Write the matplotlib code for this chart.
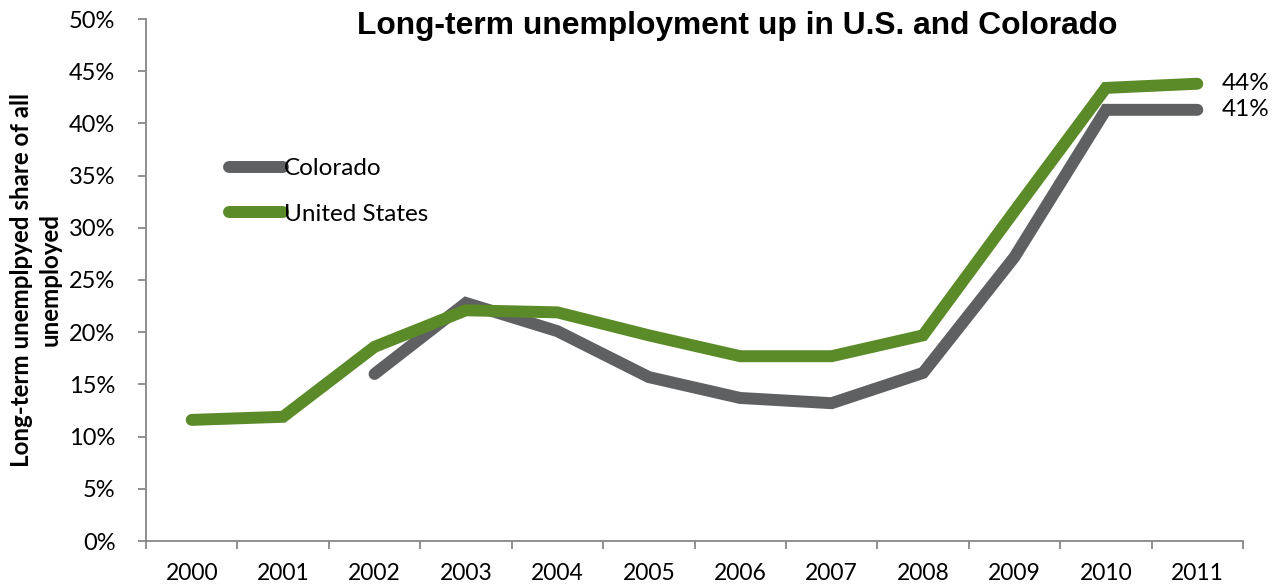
import matplotlib.pyplot as plt
from matplotlib.lines import Line2D
import matplotlib.ticker as ticker

# Share of unemployed out of work 27+ weeks (%)
years = ["2000", "2001", "2002", "2003", "2004", "2005", "2006",
         "2007", "2008", "2009", "2010", "2011"]
us_share = [11.6, 11.9, 18.6, 22.1, 21.9, 19.7, 17.7, 17.7, 19.7, 31.6, 43.4, 43.8]
co_years = ["2002", "2003", "2004", "2005", "2006", "2007", "2008", "2009", "2010", "2011"]
co_share = [16.0, 22.8, 20.1, 15.7, 13.7, 13.2, 16.1, 27.2, 41.3, 41.3]

GRAY = "#5f6062"
GREEN = "#5b8a28"
AXIS = "#878787"
BODY_FONT = ["Lato", "DejaVu Sans"]

fig = plt.figure(figsize=(12.78, 5.86), dpi=100)
ax = fig.add_axes([146 / 1278, 1 - 541 / 586, (1243 - 146) / 1278, (541 - 19) / 586])

x_all = list(range(len(years)))
x_co = [years.index(y) for y in co_years]

ax.plot(x_co, co_share, color=GRAY, lw=8.6, solid_capstyle="round",
        solid_joinstyle="miter", zorder=2)
ax.plot(x_all, us_share, color=GREEN, lw=8.6, solid_capstyle="round",
        solid_joinstyle="miter", zorder=3)

# end-of-line value labels
ax.text(x_all[-1] + 0.27, us_share[-1], f"{round(us_share[-1])}%", va="center",
        ha="left", fontsize=17.5, family=BODY_FONT, clip_on=False)
ax.text(x_all[-1] + 0.27, co_share[-1], f"{round(co_share[-1])}%", va="center",
        ha="left", fontsize=17.5, family=BODY_FONT, clip_on=False)

ax.set_xlim(-0.5, len(years) - 0.5)
ax.set_ylim(0, 50)

# category boundaries get tick marks, labels sit at the centres
ax.xaxis.set_major_locator(ticker.FixedLocator([i - 0.5 for i in range(len(years) + 1)]))
ax.xaxis.set_major_formatter(ticker.NullFormatter())
ax.xaxis.set_minor_locator(ticker.FixedLocator(x_all))
ax.xaxis.set_minor_formatter(ticker.FixedFormatter(years))
ax.tick_params(axis="x", which="major", length=6, width=1.3, color=AXIS, direction="out")
ax.tick_params(axis="x", which="minor", length=0, pad=16, labelsize=16.5)

ax.yaxis.set_major_locator(ticker.MultipleLocator(5))
ax.yaxis.set_major_formatter(ticker.FuncFormatter(lambda v, p: f"{int(v)}%"))
ax.tick_params(axis="y", length=6, width=1.3, color=AXIS, pad=16, labelsize=17)

for lab in ax.get_xticklabels(minor=True) + ax.get_yticklabels():
    lab.set_family(BODY_FONT)

for side in ["top", "right"]:
    ax.spines[side].set_visible(False)
for side in ["left", "bottom"]:
    ax.spines[side].set_color(AXIS)
    ax.spines[side].set_linewidth(1.3)

handles = [Line2D([], [], color=GRAY, lw=8.6, solid_capstyle="round"),
           Line2D([], [], color=GREEN, lw=8.6, solid_capstyle="round")]
leg = ax.legend(handles, ["Colorado", "United States"], loc="upper left",
                bbox_to_anchor=(0.056, 0.775), frameon=False, handlelength=2.2,
                handletextpad=0.05, labelspacing=1.0, prop={"family": BODY_FONT, "size": 17.5})

fig.text(737 / 1278, 1 - 26 / 586, "Long-term unemployment up in U.S. and Colorado",
         ha="center", va="center", fontsize=22.9, fontweight="bold",
         family=["Liberation Sans", "DejaVu Sans"])

fig.text(36 / 1278, 1 - 280 / 586, "Long-term unemplpyed share of all\nunemployed",
         rotation=90, ha="center", va="center", multialignment="center",
         fontsize=17.4, fontweight="bold", family=BODY_FONT, linespacing=1.3)

fig.savefig("out.png", dpi=100)
